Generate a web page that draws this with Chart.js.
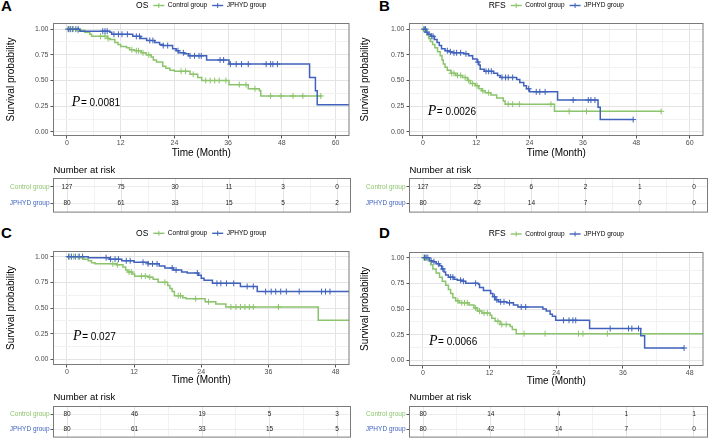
<!DOCTYPE html>
<html>
<head>
<meta charset="utf-8">
<script src="https://cdn.jsdelivr.net/npm/chart.js@4.4.0/dist/chart.umd.min.js"></script>
<style>
body{margin:0;background:#fff;width:708px;height:442px;position:relative;overflow:hidden;font-family:"Liberation Sans",Arial,sans-serif}
canvas{position:absolute}
.tag{position:absolute;font-weight:bold;font-size:15px;line-height:15px;color:#000}
</style>
</head>
<body>
<div class="tag" style="left:1px;top:-2px">A</div>
<div class="tag" style="left:379px;top:-2px">B</div>
<div class="tag" style="left:1px;top:225px">C</div>
<div class="tag" style="left:379px;top:225px">D</div>
<canvas id="kmA"></canvas><canvas id="kmB"></canvas><canvas id="kmC"></canvas><canvas id="kmD"></canvas>
<canvas id="riskA"></canvas><canvas id="riskB"></canvas><canvas id="riskC"></canvas><canvas id="riskD"></canvas>
<script>
const GREEN = '#8cc46c';
const BLUE = '#4062bc';
const groups = ['Control group', 'JPHYD group'];
const survBreaks = [0, 0.25, 0.5, 0.75, 1];
const monthBreaks60 = [0, 12, 24, 36, 48, 60];
const monthBreaks48 = [0, 12, 24, 36, 48];

// A - OS, first cohort
const osA_ctrlTime = [0, 2.1, 4, 5.1, 5.5, 9, 9.6, 10.7, 11.4, 12, 13.3, 14, 15.1, 16.6, 17.7, 18.8, 19.3, 20, 21.4, 22.1, 23, 24, 27.5, 29.2, 30.1, 36.2, 40.5, 43, 43.3, 57];
const osA_ctrlSurv = [1, 0.99, 0.97, 0.95, 0.93, 0.91, 0.90, 0.87, 0.85, 0.83, 0.82, 0.80, 0.79, 0.77, 0.75, 0.73, 0.70, 0.68, 0.64, 0.62, 0.60, 0.59, 0.56, 0.53, 0.50, 0.46, 0.42, 0.40, 0.35, 0.35];
const osA_ctrlCens = [0.3, 0.8, 1.5, 2.5, 7.5, 8.5, 9.2, 14.5, 15.5, 16, 17, 18.3, 25.5, 26.5, 28.2, 31, 32, 33, 34, 35.5, 38.5, 40, 42, 45.5, 47.8, 50.5, 52.7, 56.7];
const osA_jpTime = [0, 2.9, 9.6, 10, 14.7, 16.5, 17.8, 19.6, 20.7, 21.5, 23.6, 24.4, 25, 26.2, 27.2, 31.2, 36.2, 54.2, 55.5, 55.9, 64];
const osA_jpSurv = [1, 0.98, 0.97, 0.95, 0.93, 0.91, 0.89, 0.87, 0.85, 0.84, 0.81, 0.79, 0.77, 0.76, 0.74, 0.70, 0.66, 0.53, 0.40, 0.265, 0.265];
const osA_jpCens = [0.3, 0.7, 1.2, 2.0, 2.5, 8, 8.5, 9, 10.5, 11.5, 12.3, 13.5, 15.5, 16.2, 18.5, 19.2, 21.5, 22.5, 24.8, 26, 27.5, 28.5, 29.5, 30, 34.2, 35, 36.5, 37.8, 39, 40.5, 44.5, 45.5, 46, 47];
const riskA_ctrl = [127, 75, 30, 11, 3, 0];
const riskA_jp = [80, 61, 33, 15, 5, 2];

// B - RFS, first cohort
const rfsB_ctrlTime = [0, 0.4, 0.7, 1.0, 1.3, 1.7, 2.2, 2.7, 3.3, 3.9, 4.3, 4.6, 5.0, 5.5, 6.3, 7.4, 8.9, 10, 10.7, 11.8, 12.6, 13.3, 14, 15.3, 16.6, 18.1, 18.5, 29.6, 53.6];
const rfsB_ctrlSurv = [1, 0.99, 0.97, 0.94, 0.91, 0.88, 0.85, 0.82, 0.78, 0.74, 0.70, 0.66, 0.63, 0.60, 0.57, 0.55, 0.53, 0.50, 0.47, 0.45, 0.42, 0.40, 0.38, 0.36, 0.33, 0.30, 0.27, 0.20, 0.20];
const rfsB_ctrlCens = [0.2, 0.5, 6.5, 7, 7.8, 8.5, 9.5, 10.3, 11.2, 12.2, 13.5, 14.8, 19.2, 20.2, 21.7, 28.8, 32.9, 36.8, 53.6];
const rfsB_jpTime = [0, 0.7, 1.1, 1.8, 2.6, 3.2, 3.7, 4.2, 5.0, 5.9, 6.7, 9.2, 10.3, 11.2, 12.2, 12.6, 12.9, 13.8, 15.9, 16.8, 17.4, 21.1, 21.8, 22.7, 23.3, 24, 30.3, 39.4, 39.9, 47.3];
const rfsB_jpSurv = [1, 0.97, 0.95, 0.93, 0.90, 0.87, 0.84, 0.81, 0.79, 0.78, 0.77, 0.76, 0.74, 0.71, 0.68, 0.65, 0.61, 0.59, 0.57, 0.55, 0.53, 0.51, 0.48, 0.45, 0.42, 0.39, 0.31, 0.24, 0.12, 0.12];
const rfsB_jpCens = [0.3, 0.6, 0.9, 1.4, 2.0, 2.3, 5.5, 6.2, 7, 7.6, 8.5, 9.7, 12.4, 14.2, 14.8, 15.4, 17.8, 18.6, 19.2, 20.2, 23.8, 25.5, 26.3, 27.5, 33.8, 37.2, 37.8, 38.7, 47.3];
const riskB_ctrl = [127, 25, 6, 2, 1, 0];
const riskB_jp = [80, 42, 14, 7, 0, 0];

// C - OS, matched cohort
const osC_ctrlTime = [0, 2.4, 3.0, 3.8, 4.4, 5.0, 8.9, 10, 10.5, 10.9, 11.7, 12.1, 14.5, 15.4, 16.3, 18, 18.4, 18.8, 19.2, 20.7, 21.3, 24.7, 26.6, 28.4, 44.9, 52];
const osC_ctrlSurv = [1, 0.99, 0.975, 0.96, 0.94, 0.93, 0.92, 0.90, 0.87, 0.85, 0.83, 0.81, 0.80, 0.78, 0.75, 0.72, 0.69, 0.66, 0.62, 0.60, 0.59, 0.56, 0.54, 0.51, 0.38, 0.38];
const osC_ctrlCens = [0.5, 1.2, 2.0, 8.2, 9.0, 11.1, 11.5, 13.3, 14, 14.8, 17.5, 19.9, 20.3, 23, 25.3, 29.3, 30.2, 31, 31.8, 32.6, 33.3, 37.8];
const osC_jpTime = [0, 3.8, 7.6, 9.8, 12, 14.5, 16.5, 17.5, 19, 20.5, 21.5, 23.5, 24, 24.5, 26, 31, 34, 52];
const osC_jpSurv = [1, 0.99, 0.975, 0.96, 0.945, 0.93, 0.91, 0.89, 0.87, 0.85, 0.84, 0.82, 0.79, 0.77, 0.74, 0.71, 0.66, 0.66];
const osC_jpCens = [0.3, 0.8, 1.5, 2.2, 2.8, 7, 7.8, 8.6, 9.2, 10.6, 11.3, 13.6, 14.5, 15.3, 16.1, 18.8, 19.5, 23.3, 26.8, 27.5, 28.5, 29.8, 32.2, 33.3, 35.5, 36.5, 37.3, 38.2, 39.2, 41.5, 45.5, 46.2, 47];
const riskC_ctrl = [80, 46, 19, 5, 3];
const riskC_jp = [80, 61, 33, 15, 5];

// D - RFS, matched cohort
const rfsD_ctrlTime = [0, 1.0, 1.4, 1.8, 2.4, 3.0, 3.5, 4.1, 4.6, 5.0, 5.4, 5.9, 6.5, 8.3, 9.2, 9.8, 10.6, 12.1, 12.4, 13, 13.9, 15.7, 16.1, 16.8, 52];
const rfsD_ctrlSurv = [1, 0.97, 0.93, 0.89, 0.85, 0.81, 0.77, 0.73, 0.69, 0.65, 0.61, 0.58, 0.56, 0.54, 0.51, 0.48, 0.46, 0.44, 0.41, 0.38, 0.35, 0.33, 0.30, 0.26, 0.26];
const rfsD_ctrlCens = [0.2, 0.5, 6.3, 7.0, 7.5, 8.0, 9.5, 10.2, 11.0, 11.6, 13.5, 14.2, 15.0, 18.2, 22.0, 28.0, 28.8, 33.2];
const rfsD_jpTime = [0, 1.2, 1.6, 2.4, 3.0, 3.4, 3.8, 4.1, 4.6, 5.6, 6.2, 7.1, 7.7, 10, 10.2, 10.9, 12.2, 12.6, 13, 13.6, 15.1, 16.3, 17.1, 21.6, 22.2, 22.9, 23.3, 23.9, 30, 39.2, 39.9, 47];
const rfsD_jpSurv = [1, 0.97, 0.96, 0.94, 0.92, 0.89, 0.86, 0.83, 0.81, 0.79, 0.78, 0.77, 0.75, 0.74, 0.71, 0.68, 0.65, 0.62, 0.59, 0.57, 0.56, 0.54, 0.52, 0.50, 0.48, 0.45, 0.43, 0.39, 0.31, 0.24, 0.12, 0.12];
const rfsD_jpCens = [0.3, 0.6, 0.9, 1.5, 2.0, 2.8, 3.6, 5.0, 5.4, 6.8, 7.3, 9.5, 12.9, 13.3, 14.0, 14.6, 15.6, 17.7, 18.5, 25.3, 26.3, 27.0, 27.5, 33.7, 37.0, 37.6, 38.8, 47];
const riskD_ctrl = [80, 14, 4, 1, 1];
const riskD_jp = [80, 42, 14, 7, 0];

const pValues = ['0.0081', '0.0026', '0.027', '0.0066'];

Chart.defaults.font.family = '"Liberation Sans", Arial, sans-serif';

function place(id, c) {
  const el = document.getElementById(id);
  el.width = c.w; el.height = c.h;
  el.style.left = c.x + 'px'; el.style.top = c.y + 'px';
  return el;
}
function minorOf(b) {
  const m = [];
  for (let i = 1; i < b.length; i++) m.push((b[i - 1] + b[i]) / 2);
  m.push(b[b.length - 1] + (b[1] - b[0]) / 2);
  return m;
}
function allTicks(b, max) {
  return b.concat(minorOf(b)).filter(v => v <= max).sort((p, q) => p - q).map(v => ({value: v}));
}
function stepAt(T, S, t) {
  let v = S[0];
  for (let i = 0; i < T.length; i++) if (T[i] <= t) v = S[i];
  return v;
}
const gridCol = b => c => (c.tick && b.includes(c.tick.value)) ? '#e4e4e4' : '#f2f2f2';
const tickCol = b => c => (c.tick && b.includes(c.tick.value)) ? '#555' : 'rgba(0,0,0,0)';

const panelBox = {
  id: 'panelBox',
  afterDatasetsDraw(chart) {
    const {ctx, chartArea: a} = chart;
    ctx.save();
    ctx.strokeStyle = '#7a7a7a'; ctx.lineWidth = 1;
    ctx.strokeRect(a.left, a.top, a.right - a.left, a.bottom - a.top);
    ctx.restore();
  }
};

const kmLegend = {
  id: 'kmLegend',
  afterDraw(chart, args, o) {
    const {ctx, chartArea: a} = chart;
    ctx.save();
    ctx.textBaseline = 'middle'; ctx.textAlign = 'left';
    ctx.font = '8.5px "Liberation Sans", Arial, sans-serif';
    const tw = ctx.measureText(o.title).width;
    ctx.font = '6.5px "Liberation Sans", Arial, sans-serif';
    const lw = groups.map(s => ctx.measureText(s).width);
    const key = 11, g1 = 5, g2 = 3.5, g3 = 5;
    const total = tw + g1 + lw.reduce((s, w) => s + key + g2 + w, 0) + g3 * (lw.length - 1);
    let x = (a.left + a.right) / 2 - total / 2;
    const y = o.y;
    ctx.fillStyle = '#000';
    ctx.font = '8.5px "Liberation Sans", Arial, sans-serif';
    ctx.fillText(o.title, x, y);
    x += tw + g1;
    groups.forEach((s, i) => {
      const col = [GREEN, BLUE][i];
      ctx.strokeStyle = col; ctx.lineWidth = 1.4;
      ctx.beginPath(); ctx.moveTo(x, y); ctx.lineTo(x + key, y); ctx.stroke();
      ctx.lineWidth = 1;
      ctx.beginPath(); ctx.moveTo(x + key / 2, y - 2.5); ctx.lineTo(x + key / 2, y + 2.5); ctx.stroke();
      x += key + g2;
      ctx.fillStyle = '#000';
      ctx.font = '6.5px "Liberation Sans", Arial, sans-serif';
      ctx.fillText(s, x, y);
      x += lw[i] + g3;
    });
    ctx.restore();
  }
};

const pLabel = {
  id: 'pLabel',
  afterDatasetsDraw(chart, args, o) {
    const {ctx, scales: {x, y}} = chart;
    const px = x.getPixelForValue(o.x), py = y.getPixelForValue(o.y) + 4.5;
    ctx.save();
    ctx.fillStyle = '#000'; ctx.textBaseline = 'alphabetic'; ctx.textAlign = 'left';
    ctx.font = 'italic 14px "Liberation Serif", "DejaVu Serif", serif';
    ctx.fillText('P', px, py);
    const w = ctx.measureText('P').width;
    ctx.font = '10px "Liberation Sans", Arial, sans-serif';
    ctx.fillText('= ' + o.text, px + w + 0.5, py);
    ctx.restore();
  }
};

const riskText = {
  id: 'riskText',
  afterDatasetsDraw(chart, args, o) {
    const {ctx, chartArea: a, scales: {x, y}} = chart;
    ctx.save();
    ctx.fillStyle = '#000'; ctx.textBaseline = 'middle'; ctx.textAlign = 'left';
    ctx.font = '9.5px "Liberation Sans", Arial, sans-serif';
    ctx.fillText('Number at risk', a.left, o.titleY);
    ctx.font = '6.5px "Liberation Sans", Arial, sans-serif';
    ctx.textAlign = 'center'; ctx.fillStyle = '#1a1a1a';
    o.rows.forEach((row, r) => row.forEach((n, i) => {
      ctx.fillText(String(n), x.getPixelForValue(o.times[i]), y.getPixelForValue(r));
    }));
    ctx.restore();
  }
};

function stepLine(T, S, col) {
  return {data: T.map((t, i) => ({x: t, y: S[i]})), showLine: true, stepped: true,
    borderColor: col, borderWidth: 1.5, pointRadius: 0, fill: false};
}
function censorMarks(T, S, C, col) {
  return {data: C.map(t => ({x: t, y: stepAt(T, S, t)})), showLine: false, pointStyle: 'cross',
    pointRadius: 3, borderWidth: 1, borderColor: col, backgroundColor: col};
}

function drawKM(id, L, P) {
  const xTicks = allTicks(P.breaks, L.xmax);
  const yTicks = allTicks(survBreaks, 1);
  new Chart(place(id, L.c), {
    type: 'scatter',
    data: {datasets: [
      stepLine(P.jT, P.jS, BLUE), stepLine(P.cT, P.cS, GREEN),
      censorMarks(P.jT, P.jS, P.jC, BLUE), censorMarks(P.cT, P.cS, P.cC, GREEN)
    ]},
    options: {
      responsive: false, animation: false,
      layout: {padding: {left: 0, top: L.area.t - L.c.y, right: L.c.x + L.c.w - L.area.r,
        bottom: L.c.y + L.c.h - L.area.b - L.xAxisH}},
      plugins: {legend: {display: false}, tooltip: {enabled: false},
        kmLegend: {title: P.title, y: L.legendY}, pLabel: {x: 1.1, y: L.pY, text: P.p}},
      scales: {
        x: {type: 'linear', min: L.xmin, max: L.xmax,
          afterBuildTicks: s => { s.ticks = xTicks; },
          afterFit: s => { s.height = L.xAxisH; },
          ticks: {autoSkip: false, maxRotation: 0, padding: 0, color: '#4d4d4d', font: {size: 7},
            callback: v => P.breaks.includes(v) ? String(v) : ''},
          grid: {color: gridCol(P.breaks), tickLength: 3, tickColor: tickCol(P.breaks)},
          border: {display: false},
          title: {display: true, text: 'Time (Month)', color: '#000', font: {size: 10}, padding: 0}},
        y: {type: 'linear', min: L.ymin, max: L.ymax,
          afterBuildTicks: s => { s.ticks = yTicks; },
          afterFit: s => { s.width = L.area.l - L.c.x; },
          ticks: {autoSkip: false, padding: 2, color: '#4d4d4d', font: {size: 7},
            callback: v => survBreaks.includes(v) ? v.toFixed(2) : ''},
          grid: {color: gridCol(survBreaks), tickLength: 3, tickColor: tickCol(survBreaks)},
          border: {display: false},
          title: {display: true, text: 'Survival probability', color: '#000', font: {size: 10},
            padding: {top: L.yTitlePad, bottom: 0}}}
      }
    },
    plugins: [panelBox, kmLegend, pLabel]
  });
}

function drawRisk(id, L, breaks, xmin, xmax, rows) {
  const xTicks = allTicks(breaks, xmax);
  new Chart(place(id, L.c), {
    type: 'scatter',
    data: {datasets: []},
    options: {
      responsive: false, animation: false,
      layout: {padding: {left: 0, top: L.area.t - L.c.y, right: L.c.x + L.c.w - L.area.r,
        bottom: L.c.y + L.c.h - L.area.b}},
      plugins: {legend: {display: false}, tooltip: {enabled: false},
        riskText: {rows: rows, times: breaks, titleY: L.titleY - L.c.y}},
      scales: {
        x: {type: 'linear', min: xmin, max: xmax,
          afterBuildTicks: s => { s.ticks = xTicks; },
          afterFit: s => { s.height = 0; },
          ticks: {display: false},
          grid: {color: gridCol(breaks), drawTicks: false},
          border: {display: false}},
        y: {type: 'category', labels: groups, offset: true,
          afterFit: s => { s.width = L.area.l - L.c.x; },
          ticks: {padding: 1, font: {size: 6.5}, color: c => [GREEN, BLUE][c.index]},
          grid: {offset: false, color: '#ececec', tickLength: 3, tickColor: '#555'},
          border: {display: false}}
      }
    },
    plugins: [panelBox, riskText]
  });
}

const layA = {c: {x: 0, y: 0, w: 354, h: 160}, area: {l: 53.5, r: 350.5, t: 23.5, b: 135.5},
  xAxisH: 23.5, yTitlePad: 5, legendY: 5.5, xmin: -3, xmax: 63, ymin: -0.035, ymax: 1.055, pY: 0.30};
const layB = {c: {x: 355, y: 0, w: 353, h: 160}, area: {l: 409.5, r: 707.5, t: 23.5, b: 135.5},
  xAxisH: 23.5, yTitlePad: 4, legendY: 5.5, xmin: -3, xmax: 63, ymin: -0.035, ymax: 1.055, pY: 0.21};
const layC = {c: {x: 0, y: 225, w: 354, h: 165}, area: {l: 53.5, r: 350.5, t: 251.5, b: 364.5},
  xAxisH: 21.5, yTitlePad: 5, legendY: 8.3, xmin: -2.4, xmax: 50.4, ymin: -0.05, ymax: 1.05, pY: 0.23};
const layD = {c: {x: 355, y: 225, w: 353, h: 165}, area: {l: 409.5, r: 707.5, t: 252.5, b: 365.5},
  xAxisH: 21.5, yTitlePad: 4, legendY: 9, xmin: -2.4, xmax: 50.4, ymin: -0.05, ymax: 1.05, pY: 0.19};

drawKM('kmA', layA, {title: 'OS', p: pValues[0], breaks: monthBreaks60,
  cT: osA_ctrlTime, cS: osA_ctrlSurv, cC: osA_ctrlCens, jT: osA_jpTime, jS: osA_jpSurv, jC: osA_jpCens});
drawKM('kmB', layB, {title: 'RFS', p: pValues[1], breaks: monthBreaks60,
  cT: rfsB_ctrlTime, cS: rfsB_ctrlSurv, cC: rfsB_ctrlCens, jT: rfsB_jpTime, jS: rfsB_jpSurv, jC: rfsB_jpCens});
drawKM('kmC', layC, {title: 'OS', p: pValues[2], breaks: monthBreaks48,
  cT: osC_ctrlTime, cS: osC_ctrlSurv, cC: osC_ctrlCens, jT: osC_jpTime, jS: osC_jpSurv, jC: osC_jpCens});
drawKM('kmD', layD, {title: 'RFS', p: pValues[3], breaks: monthBreaks48,
  cT: rfsD_ctrlTime, cS: rfsD_ctrlSurv, cC: rfsD_ctrlCens, jT: rfsD_jpTime, jS: rfsD_jpSurv, jC: rfsD_jpCens});

drawRisk('riskA', {c: {x: 0, y: 160, w: 354, h: 57}, area: {l: 53.5, r: 350.5, t: 178.5, b: 213.5}, titleY: 170.5},
  monthBreaks60, -3, 63, [riskA_ctrl, riskA_jp]);
drawRisk('riskB', {c: {x: 355, y: 160, w: 353, h: 57}, area: {l: 409.5, r: 707.5, t: 178.5, b: 213.5}, titleY: 170.5},
  monthBreaks60, -3, 63, [riskB_ctrl, riskB_jp]);
drawRisk('riskC', {c: {x: 0, y: 390, w: 354, h: 52}, area: {l: 53.5, r: 350.5, t: 406.5, b: 440.5}, titleY: 397.7},
  monthBreaks48, -2.4, 50.4, [riskC_ctrl, riskC_jp]);
drawRisk('riskD', {c: {x: 355, y: 390, w: 353, h: 52}, area: {l: 409.5, r: 707.5, t: 406.5, b: 440.5}, titleY: 397.7},
  monthBreaks48, -2.4, 50.4, [riskD_ctrl, riskD_jp]);
</script>
</body>
</html>
